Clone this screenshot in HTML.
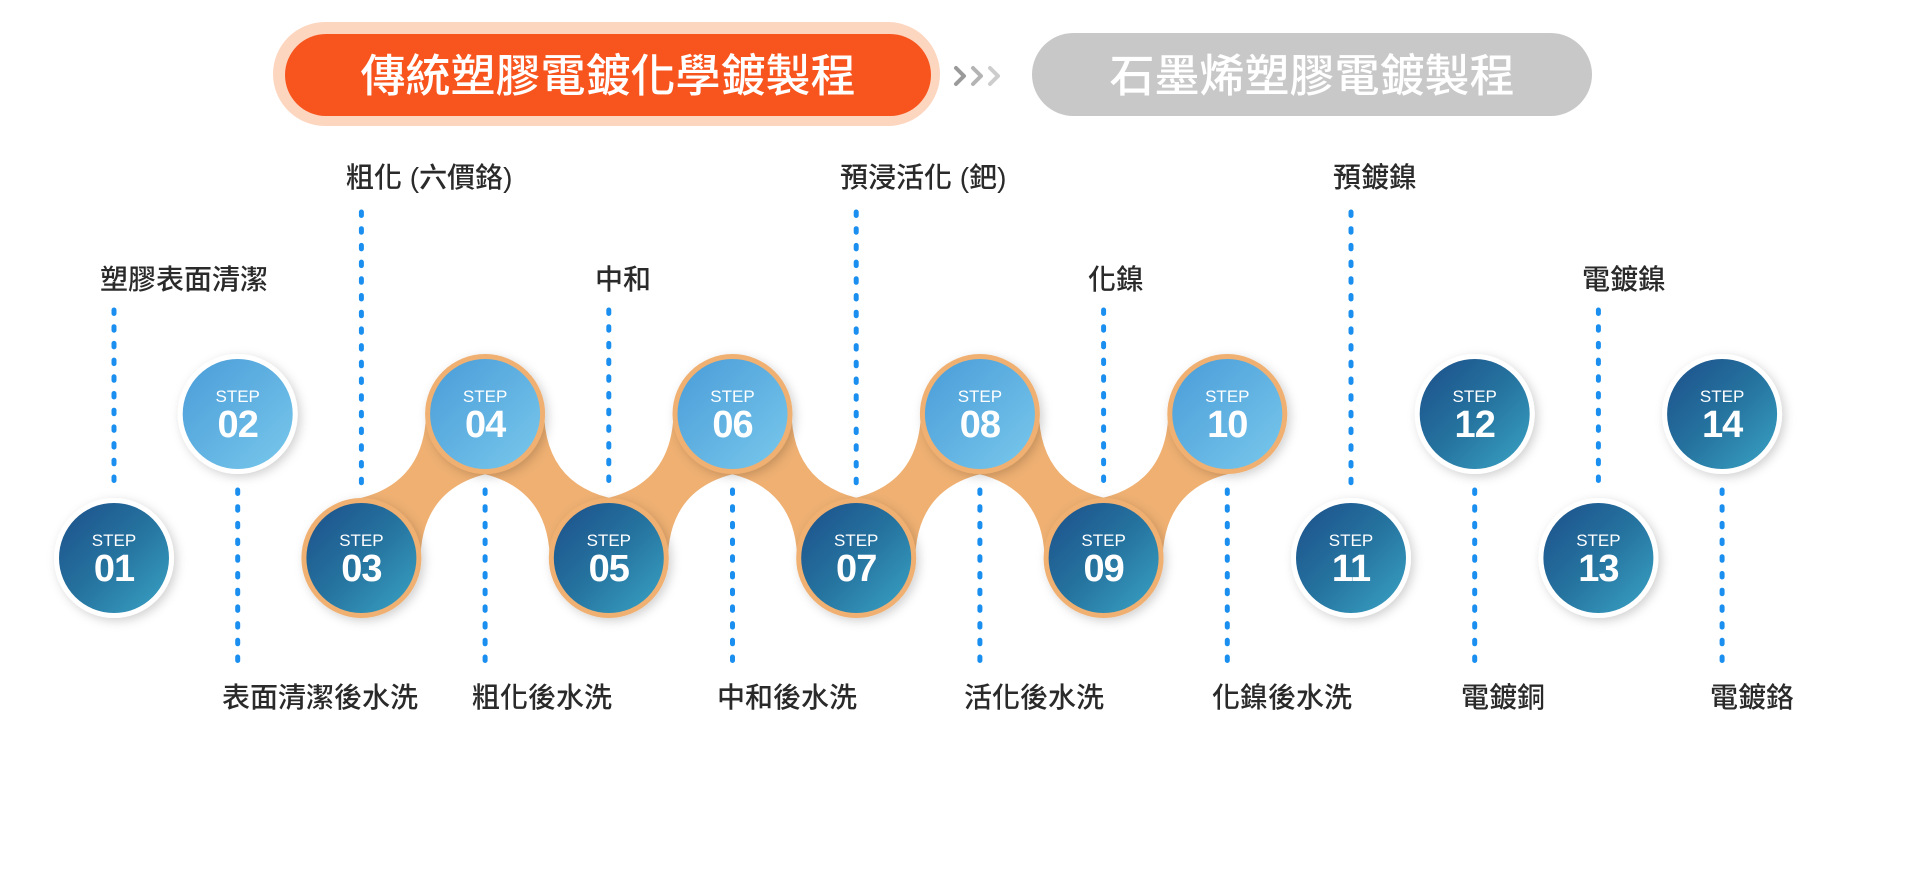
<!DOCTYPE html>
<html><head><meta charset="utf-8"><style>
html,body{margin:0;padding:0;background:#fff;}
body{width:1920px;height:886px;overflow:hidden;position:relative;font-family:"Liberation Sans","Noto Sans CJK TC",sans-serif;}
.lab{position:absolute;font-size:28px;color:#2a2a2a;font-weight:500;white-space:nowrap;line-height:1;font-family:"Liberation Sans","Noto Sans CJK TC",sans-serif;transform:translateY(-50%);}
.title{position:absolute;color:#fff;font-size:45px;font-weight:500;line-height:1;white-space:nowrap;transform:translate(-50%,-50%);font-family:"Liberation Sans","Noto Sans CJK TC",sans-serif;}
</style></head><body>
<svg width="1920" height="886" style="position:absolute;left:0;top:0">
<defs>
<linearGradient id="gd" x1="0" y1="0" x2="1" y2="1"><stop offset="0" stop-color="#1c4f8a"/><stop offset="0.5" stop-color="#25739f"/><stop offset="1" stop-color="#3aa3c4"/></linearGradient>
<linearGradient id="gl" x1="0" y1="0" x2="1" y2="1"><stop offset="0" stop-color="#4a9cd8"/><stop offset="1" stop-color="#78c8ec"/></linearGradient>
<filter id="sh" x="-30%" y="-30%" width="160%" height="160%"><feDropShadow dx="3" dy="3" stdDeviation="5" flood-color="#000" flood-opacity="0.18"/></filter>
</defs>
<rect x="273" y="22" width="667" height="104" rx="52" fill="#fdd6c0"/>
<rect x="285" y="34" width="646" height="82" rx="41" fill="#f8541d"/>
<rect x="1032" y="33" width="560" height="83" rx="41.5" fill="#c8c8c8"/>
<g fill="none" stroke-width="4" stroke-linecap="round" stroke-linejoin="round">
<polyline points="956,68 964,76 956,84" stroke="#9a9a9a"/>
<polyline points="973,68 981,76 973,84" stroke="#b4b4b4"/>
<polyline points="990,68 998,76 990,84" stroke="#cdcdcd"/>
</g>
<g stroke="#1a8ff0" stroke-width="5" stroke-dasharray="3.5 13.2" stroke-linecap="round">
<line x1="114" y1="310" x2="114" y2="488"/>
<line x1="361.4" y1="212" x2="361.4" y2="488"/>
<line x1="608.8" y1="310" x2="608.8" y2="488"/>
<line x1="856.2" y1="212" x2="856.2" y2="488"/>
<line x1="1103.6" y1="310" x2="1103.6" y2="488"/>
<line x1="1351" y1="212" x2="1351" y2="488"/>
<line x1="1598.4" y1="310" x2="1598.4" y2="488"/>
<line x1="237.7" y1="490" x2="237.7" y2="668"/>
<line x1="485.1" y1="490" x2="485.1" y2="668"/>
<line x1="732.5" y1="490" x2="732.5" y2="668"/>
<line x1="979.9" y1="490" x2="979.9" y2="668"/>
<line x1="1227.3" y1="490" x2="1227.3" y2="668"/>
<line x1="1474.7" y1="490" x2="1474.7" y2="668"/>
<line x1="1722.1" y1="490" x2="1722.1" y2="668"/>
</g>
<g fill="#efb072">
<path transform="translate(361.4,558)" d="M59,11.1 Q55.8,-77.2 143.6,-87.4 L64.7,-155.1 Q67.9,-66.8 -19.9,-56.6 Z"/>
<path transform="translate(485.1,414)" d="M59,-11.1 Q55.8,77.2 143.6,87.4 L64.7,155.1 Q67.9,66.8 -19.9,56.6 Z"/>
<path transform="translate(608.8,558)" d="M59,11.1 Q55.8,-77.2 143.6,-87.4 L64.7,-155.1 Q67.9,-66.8 -19.9,-56.6 Z"/>
<path transform="translate(732.5,414)" d="M59,-11.1 Q55.8,77.2 143.6,87.4 L64.7,155.1 Q67.9,66.8 -19.9,56.6 Z"/>
<path transform="translate(856.2,558)" d="M59,11.1 Q55.8,-77.2 143.6,-87.4 L64.7,-155.1 Q67.9,-66.8 -19.9,-56.6 Z"/>
<path transform="translate(979.9,414)" d="M59,-11.1 Q55.8,77.2 143.6,87.4 L64.7,155.1 Q67.9,66.8 -19.9,56.6 Z"/>
<path transform="translate(1103.6,558)" d="M59,11.1 Q55.8,-77.2 143.6,-87.4 L64.7,-155.1 Q67.9,-66.8 -19.9,-56.6 Z"/>
</g>
<g font-family="Liberation Sans, sans-serif" fill="#fff" text-anchor="middle">
<g transform="translate(114,558)"><circle r="60" fill="#fff" filter="url(#sh)"/><circle r="55" fill="url(#gd)"/><text y="-12" font-size="17">STEP</text><text y="23" font-size="38" font-weight="bold" letter-spacing="-1">01</text></g>
<g transform="translate(237.7,414)"><circle r="60" fill="#fff" filter="url(#sh)"/><circle r="55" fill="url(#gl)"/><text y="-12" font-size="17">STEP</text><text y="23" font-size="38" font-weight="bold" letter-spacing="-1">02</text></g>
<g transform="translate(361.4,558)"><circle r="60" fill="#efb072" filter="url(#sh)"/><circle r="55" fill="url(#gd)"/><text y="-12" font-size="17">STEP</text><text y="23" font-size="38" font-weight="bold" letter-spacing="-1">03</text></g>
<g transform="translate(485.1,414)"><circle r="60" fill="#efb072" filter="url(#sh)"/><circle r="55" fill="url(#gl)"/><text y="-12" font-size="17">STEP</text><text y="23" font-size="38" font-weight="bold" letter-spacing="-1">04</text></g>
<g transform="translate(608.8,558)"><circle r="60" fill="#efb072" filter="url(#sh)"/><circle r="55" fill="url(#gd)"/><text y="-12" font-size="17">STEP</text><text y="23" font-size="38" font-weight="bold" letter-spacing="-1">05</text></g>
<g transform="translate(732.5,414)"><circle r="60" fill="#efb072" filter="url(#sh)"/><circle r="55" fill="url(#gl)"/><text y="-12" font-size="17">STEP</text><text y="23" font-size="38" font-weight="bold" letter-spacing="-1">06</text></g>
<g transform="translate(856.2,558)"><circle r="60" fill="#efb072" filter="url(#sh)"/><circle r="55" fill="url(#gd)"/><text y="-12" font-size="17">STEP</text><text y="23" font-size="38" font-weight="bold" letter-spacing="-1">07</text></g>
<g transform="translate(979.9,414)"><circle r="60" fill="#efb072" filter="url(#sh)"/><circle r="55" fill="url(#gl)"/><text y="-12" font-size="17">STEP</text><text y="23" font-size="38" font-weight="bold" letter-spacing="-1">08</text></g>
<g transform="translate(1103.6,558)"><circle r="60" fill="#efb072" filter="url(#sh)"/><circle r="55" fill="url(#gd)"/><text y="-12" font-size="17">STEP</text><text y="23" font-size="38" font-weight="bold" letter-spacing="-1">09</text></g>
<g transform="translate(1227.3,414)"><circle r="60" fill="#efb072" filter="url(#sh)"/><circle r="55" fill="url(#gl)"/><text y="-12" font-size="17">STEP</text><text y="23" font-size="38" font-weight="bold" letter-spacing="-1">10</text></g>
<g transform="translate(1351,558)"><circle r="60" fill="#fff" filter="url(#sh)"/><circle r="55" fill="url(#gd)"/><text y="-12" font-size="17">STEP</text><text y="23" font-size="38" font-weight="bold" letter-spacing="-1">11</text></g>
<g transform="translate(1474.7,414)"><circle r="60" fill="#fff" filter="url(#sh)"/><circle r="55" fill="url(#gd)"/><text y="-12" font-size="17">STEP</text><text y="23" font-size="38" font-weight="bold" letter-spacing="-1">12</text></g>
<g transform="translate(1598.4,558)"><circle r="60" fill="#fff" filter="url(#sh)"/><circle r="55" fill="url(#gd)"/><text y="-12" font-size="17">STEP</text><text y="23" font-size="38" font-weight="bold" letter-spacing="-1">13</text></g>
<g transform="translate(1722.1,414)"><circle r="60" fill="#fff" filter="url(#sh)"/><circle r="55" fill="url(#gd)"/><text y="-12" font-size="17">STEP</text><text y="23" font-size="38" font-weight="bold" letter-spacing="-1">14</text></g>
</g>
</svg>
<div class="title" style="left:608px;top:76px">傳統塑膠電鍍化學鍍製程</div>
<div class="title" style="left:1312px;top:76px">石墨烯塑膠電鍍製程</div>

<div class="lab" style="left:100px;top:280px">塑膠表面清潔</div>
<div class="lab" style="left:346px;top:178px">粗化 (六價鉻)</div>
<div class="lab" style="left:595px;top:280px">中和</div>
<div class="lab" style="left:840px;top:178px">預浸活化 (鈀)</div>
<div class="lab" style="left:1088px;top:280px">化鎳</div>
<div class="lab" style="left:1333px;top:178px">預鍍鎳</div>
<div class="lab" style="left:1582px;top:280px">電鍍鎳</div>

<div class="lab" style="left:222px;top:698px">表面清潔後水洗</div>
<div class="lab" style="left:472px;top:698px">粗化後水洗</div>
<div class="lab" style="left:717px;top:698px">中和後水洗</div>
<div class="lab" style="left:964px;top:698px">活化後水洗</div>
<div class="lab" style="left:1212px;top:698px">化鎳後水洗</div>
<div class="lab" style="left:1461px;top:698px">電鍍銅</div>
<div class="lab" style="left:1710px;top:698px">電鍍鉻</div>
</body></html>
